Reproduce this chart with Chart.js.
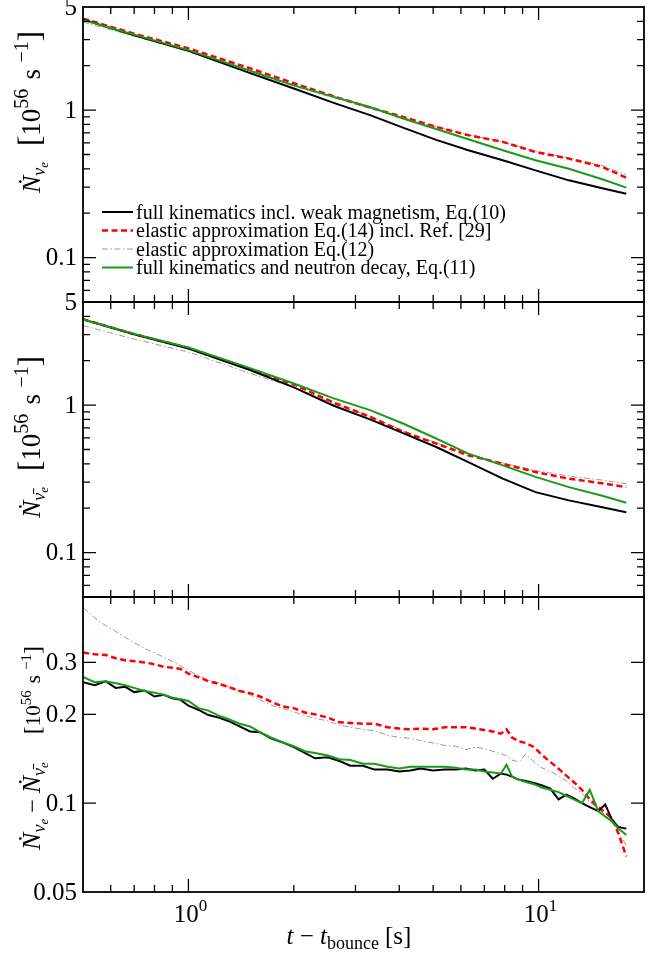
<!DOCTYPE html>
<html>
<head>
<meta charset="utf-8">
<script src="https://cdn.jsdelivr.net/npm/chart.js@4.4.1/dist/chart.umd.min.js"></script>
<style>
html, body { margin: 0; padding: 0; background: #fff; }
#wrap { position: relative; width: 670px; height: 958px; }
#wrap canvas { position: absolute; left: 0; top: 0; }
</style>
</head>
<body>
<div id="wrap">
  <canvas id="p1" width="670" height="958"></canvas>
  <canvas id="p2" width="670" height="958"></canvas>
  <canvas id="p3" width="670" height="958"></canvas>
</div>
<script>
// time after bounce [s] for the two rate panels
var tRate = [0.5, 0.7, 1, 1.5, 2, 2.6, 3.3, 4.1, 5.1, 6.3, 7.9, 9.8, 12.2, 15.2, 17.8];

// nu_e number rate [1e56 /s]
var nue_full  = [4.12, 3.21, 2.52, 1.78, 1.40, 1.12, 0.925, 0.76, 0.628, 0.534, 0.457, 0.39, 0.334, 0.295, 0.271];
var nue_el14  = [4.17, 3.30, 2.62, 1.92, 1.52, 1.24, 1.04, 0.90, 0.77, 0.676, 0.609, 0.52, 0.469, 0.412, 0.348];
var nue_el12  = [3.95, 3.17, 2.50, 1.80, 1.46, 1.21, 1.03, 0.89, 0.77, 0.68, 0.61, 0.525, 0.475, 0.42, 0.365];
var nue_decay = [4.08, 3.25, 2.55, 1.85, 1.47, 1.23, 1.05, 0.878, 0.745, 0.635, 0.534, 0.457, 0.40, 0.34, 0.298];

// anti nu_e number rate [1e56 /s]
var anue_full  = [3.80, 3.02, 2.42, 1.73, 1.32, 0.99, 0.80, 0.645, 0.52, 0.41, 0.317, 0.257, 0.226, 0.203, 0.188];
var anue_el14  = [3.82, 3.03, 2.44, 1.76, 1.38, 1.04, 0.833, 0.66, 0.549, 0.457, 0.40, 0.352, 0.317, 0.295, 0.278];
var anue_el12  = [3.46, 2.80, 2.29, 1.64, 1.32, 1.02, 0.84, 0.67, 0.555, 0.465, 0.405, 0.36, 0.33, 0.31, 0.293];
var anue_decay = [3.80, 3.04, 2.46, 1.78, 1.40, 1.11, 0.925, 0.75, 0.594, 0.469, 0.39, 0.326, 0.278, 0.243, 0.218];

// time grid for the difference panel
var tDiff = [0.5, 0.54, 0.58, 0.62, 0.66, 0.7, 0.75, 0.8, 0.85, 0.9, 0.95, 1.0, 1.07, 1.14, 1.22, 1.3,
             1.4, 1.5, 1.6, 1.72, 1.85, 2.0, 2.15, 2.3, 2.5, 2.7, 2.9, 3.15, 3.4, 3.7, 4.0, 4.3,
             4.6, 5.0, 5.4, 5.8, 6.2, 6.6, 7.0, 7.4, 7.8, 8.1, 8.4, 8.8, 9.2, 9.7, 10.2, 10.8,
             11.4, 12.0, 12.6, 13.3, 14.0, 14.8, 15.5, 16.2, 16.9, 17.8];

// nu_e minus anti nu_e [1e56 /s]
var diff_full  = [0.257, 0.251, 0.259, 0.246, 0.248, 0.238, 0.241, 0.230, 0.233, 0.227, 0.224, 0.214, 0.207, 0.199, 0.195, 0.190,
                  0.182, 0.175, 0.174, 0.166, 0.161, 0.155, 0.148, 0.142, 0.143, 0.139, 0.134, 0.134, 0.130, 0.130, 0.128, 0.129,
                  0.131, 0.129, 0.130, 0.130, 0.131, 0.129, 0.130, 0.121, 0.126, 0.125, 0.123, 0.120, 0.119, 0.117, 0.115, 0.112,
                  0.103, 0.107, 0.104, 0.100, 0.097, 0.094, 0.099, 0.088, 0.083, 0.082];
var diff_el14  = [0.324, 0.320, 0.318, 0.310, 0.305, 0.303, 0.300, 0.296, 0.290, 0.288, 0.285, 0.275, 0.267, 0.259, 0.254, 0.248,
                  0.240, 0.236, 0.230, 0.221, 0.213, 0.210, 0.203, 0.200, 0.195, 0.188, 0.187, 0.186, 0.186, 0.181, 0.179, 0.178,
                  0.179, 0.178, 0.181, 0.181, 0.181, 0.179, 0.177, 0.175, 0.172, 0.178, 0.167, 0.162, 0.160, 0.155, 0.146, 0.138,
                  0.131, 0.124, 0.118, 0.111, 0.103, 0.097, 0.093, 0.089, 0.079, 0.066];
var diff_el12  = [0.460, 0.425, 0.400, 0.382, 0.365, 0.350, 0.335, 0.323, 0.313, 0.302, 0.292, 0.282, 0.270, 0.262, 0.256, 0.248,
                  0.240, 0.233, 0.224, 0.215, 0.210, 0.204, 0.198, 0.194, 0.190, 0.184, 0.181, 0.178, 0.176, 0.170, 0.167, 0.166,
                  0.163, 0.160, 0.157, 0.156, 0.152, 0.155, 0.153, 0.150, 0.147, 0.145, 0.140, 0.138, 0.147, 0.138, 0.132, 0.128,
                  0.124, 0.119, 0.113, 0.108, 0.101, 0.096, 0.091, 0.086, 0.080, 0.072];
var diff_decay = [0.268, 0.257, 0.259, 0.255, 0.251, 0.246, 0.240, 0.237, 0.233, 0.228, 0.225, 0.222, 0.210, 0.206, 0.198, 0.193,
                  0.186, 0.182, 0.174, 0.167, 0.161, 0.156, 0.150, 0.148, 0.145, 0.141, 0.140, 0.136, 0.136, 0.133, 0.131, 0.133,
                  0.133, 0.133, 0.133, 0.132, 0.130, 0.130, 0.128, 0.127, 0.126, 0.135, 0.123, 0.120, 0.118, 0.116, 0.113, 0.111,
                  0.109, 0.106, 0.103, 0.100, 0.111, 0.094, 0.090, 0.087, 0.082, 0.078];

var legendLabels = [
  'full kinematics incl. weak magnetism, Eq.(10)',
  'elastic approximation Eq.(14) incl. Ref. [29]',
  'elastic approximation Eq.(12)',
  'full kinematics and neutron decay, Eq.(11)'
];

var rateTickLabels = [5, 1, 0.1];
var diffTickLabels = [0.3, 0.2, 0.1, 0.05];
var xTickLabels = [1, 10];

// line styles, same order as legend
var styles = [
  {color: '#000000', width: 2,   dash: [],                  order: 2},
  {color: '#ff0000', width: 2.5, dash: [6, 3.5],            order: 3},
  {color: '#999999', width: 1,   dash: [6, 2.5, 1.5, 2.5],  order: 4},
  {color: '#1a9a1a', width: 2,   dash: [],                  order: 1}
];

var SERIF = '"Liberation Serif", "DejaVu Serif", serif';
function font(size, italic) {
  return (italic ? 'italic ' : '') + size + 'px ' + SERIF;
}

// draws a row of text pieces (sub/superscripts, fixed gaps) centred on x
function drawRich(ctx, parts, x, y, align) {
  var total = 0;
  parts.forEach(function(p) {
    if (p.gap) { p.w = p.gap; }
    else {
      ctx.font = font(p.size, p.italic);
      p.w = ctx.measureText(p.text).width;
    }
    total += p.w;
  });
  var cx = align === 'left' ? x : x - total / 2;
  ctx.textBaseline = 'alphabetic';
  ctx.textAlign = 'left';
  parts.forEach(function(p) {
    if (!p.gap) {
      ctx.font = font(p.size, p.italic);
      ctx.fillText(p.text, cx, y + (p.dy || 0));
    }
    cx += p.w;
  });
}

function unitParts(k) {
  return [
    {text: '[', size: Math.round(24 * k)},
    {text: '10', size: Math.round(21 * k)},
    {text: '56', size: Math.round(15 * k), dy: -9 * k},
    {gap: 7 * k},
    {text: 's', size: Math.round(21 * k)},
    {gap: 5 * k},
    {text: '−1', size: Math.round(15 * k), dy: -9 * k},
    {text: ']', size: Math.round(24 * k)}
  ];
}

function rateTitle(bar) {
  return [
    {text: 'Ṅ', size: 26, italic: true},
    {text: bar ? 'ν\u0304' : 'ν', size: 18, italic: true, dy: 5},
    {text: 'e', size: 13, italic: true, dy: 8},
    {gap: 16}
  ].concat(unitParts(1.3));
}

var diffTitle = [
  {text: 'Ṅ', size: 26, italic: true},
  {text: 'ν', size: 18, italic: true, dy: 5},
  {text: 'e', size: 13, italic: true, dy: 8},
  {gap: 6},
  {text: '−', size: 24},
  {gap: 6},
  {text: 'Ṅ', size: 26, italic: true},
  {text: 'ν\u0304', size: 18, italic: true, dy: 5},
  {text: 'e', size: 13, italic: true, dy: 8},
  {gap: 28}
].concat(unitParts(1));

var xMajor = [1, 10];
var xMinor = [0.6, 0.7, 0.8, 0.9, 2, 3, 4, 5, 6, 7, 8, 9];
var rateMajor = [0.1, 1];
var rateMinor = [0.06, 0.07, 0.08, 0.09, 0.2, 0.3, 0.4, 0.5, 0.6, 0.7, 0.8, 0.9, 2, 3, 4];

var panels = [
  {id: 'p1', top: 7, bottom: 302, yMin: 0.05, yMax: 5, t: tRate,
   series: [nue_full, nue_el14, nue_el12, nue_decay],
   yLabels: rateTickLabels, yMajor: rateMajor, yMinor: rateMinor,
   title: rateTitle(false), titleY: 112, legend: true},
  {id: 'p2', top: 302, bottom: 597, yMin: 0.05, yMax: 5, t: tRate,
   series: [anue_full, anue_el14, anue_el12, anue_decay],
   yLabels: rateTickLabels, yMajor: rateMajor, yMinor: rateMinor,
   title: rateTitle(true), titleY: 437},
  {id: 'p3', top: 597, bottom: 892, yMin: 0.05, yMax: 0.5, t: tDiff,
   series: [diff_full, diff_el14, diff_el12, diff_decay],
   yLabels: diffTickLabels, yMajor: [0.1, 0.2, 0.3], yMinor: [],
   title: diffTitle, titleY: 748, xAxis: true}
];

function axesPlugin(p) {
  return {
    id: 'panelAxes',
    afterDraw: function(chart) {
      var ctx = chart.ctx, a = chart.chartArea;
      var xs = chart.scales.x, ys = chart.scales.y;
      ctx.save();
      ctx.strokeStyle = '#000';
      ctx.fillStyle = '#000';

      // tick marks, all pointing into the plot
      ctx.lineWidth = 1.3;
      ctx.beginPath();
      function xTick(v, len) {
        var px = xs.getPixelForValue(v);
        ctx.moveTo(px, a.top); ctx.lineTo(px, a.top + len);
        ctx.moveTo(px, a.bottom); ctx.lineTo(px, a.bottom - len);
      }
      function yTick(v, len) {
        var py = ys.getPixelForValue(v);
        ctx.moveTo(a.left, py); ctx.lineTo(a.left + len, py);
        ctx.moveTo(a.right, py); ctx.lineTo(a.right - len, py);
      }
      xMajor.forEach(function(v) { xTick(v, 13); });
      xMinor.forEach(function(v) { xTick(v, 7); });
      p.yMajor.forEach(function(v) { yTick(v, 13); });
      p.yMinor.forEach(function(v) { yTick(v, 7); });
      ctx.stroke();

      // frame
      ctx.lineWidth = 1.8;
      ctx.strokeRect(a.left, a.top, a.right - a.left, a.bottom - a.top);

      // y tick labels
      ctx.font = font(25);
      ctx.textAlign = 'right';
      ctx.textBaseline = 'middle';
      p.yLabels.forEach(function(v) {
        ctx.fillText(String(v), a.left - 6, ys.getPixelForValue(v) + 1);
      });

      // y title, rotated
      ctx.save();
      ctx.translate(40, p.titleY);
      ctx.rotate(-Math.PI / 2);
      drawRich(ctx, p.title, 0, 0);
      ctx.restore();

      if (p.xAxis) {
        xTickLabels.forEach(function(v) {
          var exp = String(Math.round(Math.log10(v)));
          drawRich(ctx, [{text: '10', size: 25}, {text: exp, size: 17, dy: -11}],
                   xs.getPixelForValue(v) + 2, 922);
        });
        drawRich(ctx, [
          {text: 't', size: 25, italic: true},
          {text: ' − ', size: 25},
          {text: 't', size: 25, italic: true},
          {text: 'bounce', size: 18, dy: 5},
          {gap: 6},
          {text: '[s]', size: 25}
        ], 349, 944);
      }

      if (p.legend) {
        var rows = [212, 230.5, 249, 267.5];
        styles.forEach(function(s, i) {
          ctx.beginPath();
          ctx.strokeStyle = s.color;
          ctx.lineWidth = s.width;
          ctx.setLineDash(s.dash);
          ctx.moveTo(102, rows[i]);
          ctx.lineTo(133, rows[i]);
          ctx.stroke();
          ctx.setLineDash([]);
          ctx.font = font(20);
          ctx.textAlign = 'left';
          ctx.textBaseline = 'alphabetic';
          ctx.fillStyle = '#000';
          ctx.fillText(legendLabels[i], 136, rows[i] + 6.5);
        });
      }
      ctx.restore();
    }
  };
}

panels.forEach(function(p) {
  var datasets = p.series.map(function(vals, i) {
    var s = styles[i];
    return {
      label: legendLabels[i],
      data: p.t.map(function(t, k) { return {x: t, y: vals[k]}; }),
      borderColor: s.color,
      borderWidth: s.width,
      borderDash: s.dash,
      order: s.order,
      pointRadius: 0,
      fill: false,
      tension: 0
    };
  });

  new Chart(document.getElementById(p.id), {
    type: 'line',
    data: {datasets: datasets},
    options: {
      responsive: false,
      animation: false,
      events: [],
      layout: {padding: {left: 83, right: 26, top: p.top, bottom: 958 - p.bottom}},
      plugins: {legend: {display: false}, tooltip: {enabled: false}},
      scales: {
        x: {type: 'logarithmic', min: 0.5, max: 20, display: false},
        y: {type: 'logarithmic', min: p.yMin, max: p.yMax, display: false}
      }
    },
    plugins: [axesPlugin(p)]
  });
});
</script>
</body>
</html>
